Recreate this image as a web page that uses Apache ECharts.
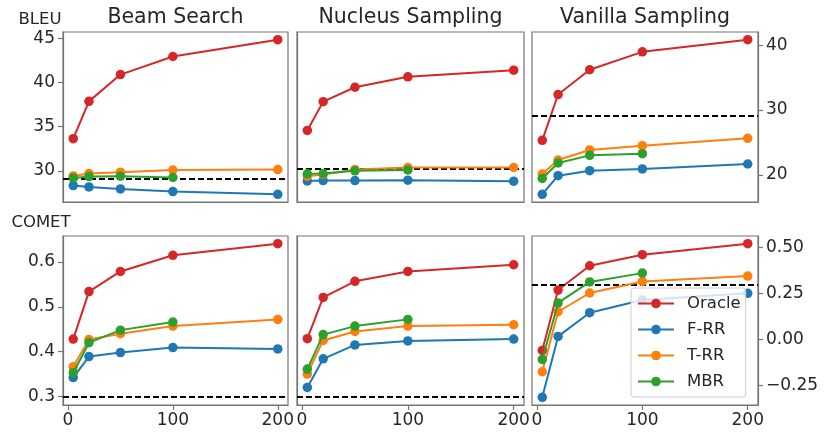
<!DOCTYPE html>
<html><head><meta charset="utf-8">
<script src="https://cdn.jsdelivr.net/npm/echarts@6/dist/echarts.min.js"></script>
<style>html,body{margin:0;padding:0;background:#fff}#c{width:830px;height:440px}</style>
</head><body><div id="c"></div>
<script>
// ---------- data ----------
const methods = ['Oracle', 'F-RR', 'T-RR', 'MBR'];
const budgets = [5, 20, 50, 100, 200];
const mbrBudgets = [5, 20, 50, 100];
const xTicks = [0, 100, 200];
const panelTitles = ['Beam Search', 'Nucleus Sampling', 'Vanilla Sampling'];
const metricLabels = ['BLEU', 'COMET'];

const bleuTicksLeft = [30, 35, 40, 45];
const bleuTicksRight = [20, 30, 40];
const cometTicksLeft = [0.3, 0.4, 0.5, 0.6];
const cometTicksRight = [-0.25, 0, 0.25, 0.5];

// BLEU - Beam Search
const bleuBeamOracle = [33.64, 37.87, 40.9, 42.95, 44.85];
const bleuBeamFRR    = [28.33, 28.18, 27.95, 27.65, 27.35];
const bleuBeamTRR    = [29.43, 29.7, 29.85, 30.1, 30.15];
const bleuBeamMBR    = [29.2, 29.35, 29.4, 29.25];
const bleuBeamBase   = 29.09;
// BLEU - Nucleus Sampling
const bleuNucOracle = [34.58, 37.84, 39.47, 40.65, 41.4];
const bleuNucFRR    = [28.86, 28.9, 28.9, 28.94, 28.83];
const bleuNucTRR    = [29.4, 29.6, 30.15, 30.38, 30.38];
const bleuNucMBR    = [29.66, 29.7, 30.0, 30.1];
const bleuNucBase   = 30.27;
// BLEU - Vanilla Sampling
const bleuVanOracle = [25.32, 32.38, 36.2, 38.96, 40.83];
const bleuVanFRR    = [17.0, 19.86, 20.63, 20.9, 21.67];
const bleuVanTRR    = [20.12, 22.28, 23.83, 24.5, 25.63];
const bleuVanMBR    = [19.44, 21.82, 23.0, 23.26];
const bleuVanBase   = 29.13;
// COMET - Beam Search
const cometBeamOracle = [0.428, 0.534, 0.579, 0.615, 0.641];
const cometBeamFRR    = [0.342, 0.389, 0.398, 0.409, 0.406];
const cometBeamTRR    = [0.366, 0.427, 0.44, 0.457, 0.472];
const cometBeamMBR    = [0.353, 0.42, 0.448, 0.466];
const cometBeamBase   = 0.302;
// COMET - Nucleus Sampling
const cometNucOracle = [0.429, 0.521, 0.557, 0.579, 0.594];
const cometNucFRR    = [0.32, 0.384, 0.415, 0.424, 0.428];
const cometNucTRR    = [0.35, 0.425, 0.445, 0.457, 0.46];
const cometNucMBR    = [0.361, 0.438, 0.457, 0.472];
const cometNucBase   = 0.298;
// COMET - Vanilla Sampling
const cometVanOracle = [-0.058, 0.27, 0.402, 0.462, 0.522];
const cometVanFRR    = [-0.313, 0.018, 0.147, 0.216, 0.252];
const cometVanTRR    = [-0.174, 0.152, 0.254, 0.317, 0.346];
const cometVanMBR    = [-0.107, 0.2, 0.314, 0.362];
const cometVanBase   = 0.303;

// ---------- build ----------
const colors = ['#d62728', '#1f77b4', '#ff7f0e', '#2ca02c'];
const FONT = 'DejaVu Sans';
const TXT = '#262626';
const FRAME = '#757575';

const panels = [
  [bleuBeamOracle, bleuBeamFRR, bleuBeamTRR, bleuBeamMBR, bleuBeamBase],
  [bleuNucOracle, bleuNucFRR, bleuNucTRR, bleuNucMBR, bleuNucBase],
  [bleuVanOracle, bleuVanFRR, bleuVanTRR, bleuVanMBR, bleuVanBase],
  [cometBeamOracle, cometBeamFRR, cometBeamTRR, cometBeamMBR, cometBeamBase],
  [cometNucOracle, cometNucFRR, cometNucTRR, cometNucMBR, cometNucBase],
  [cometVanOracle, cometVanFRR, cometVanTRR, cometVanMBR, cometVanBase]
];

function limits(list) {
  let vals = [];
  list.forEach(p => { p.forEach(a => { vals = vals.concat(a); }); });
  const lo = Math.min(...vals), hi = Math.max(...vals);
  const m = (hi - lo) * 0.05;
  return [lo - m, hi + m];
}
const xlo = Math.min(...budgets), xhi = Math.max(...budgets);
const xLim = [xlo - (xhi - xlo) * 0.05, xhi + (xhi - xlo) * 0.05];
const yLims = [
  limits([panels[0], panels[1]]), limits([panels[0], panels[1]]), limits([panels[2]]),
  limits([panels[3], panels[4]]), limits([panels[3], panels[4]]), limits([panels[5]])
];

const cols = [{left: 63, width: 225}, {left: 297, width: 227}, {left: 532, width: 226}];
const rows = [{top: 32, height: 170}, {top: 236, height: 169}];

const grids = [], xAxes = [], yAxes = [], series = [];
for (let p = 0; p < 6; p++) {
  const r = Math.floor(p / 3), c = p % 3;
  grids.push({left: cols[c].left, width: cols[c].width, top: rows[r].top, height: rows[r].height,
    show: true, borderColor: FRAME, borderWidth: 1.2, backgroundColor: 'transparent',
    containLabel: false, outerBoundsMode: 'none'});
  xAxes.push({type: 'value', gridIndex: p, min: xLim[0], max: xLim[1],
    axisLine: {show: true, onZero: false, lineStyle: {color: FRAME, width: 1.2}},
    splitLine: {show: false},
    axisTick: {show: r === 1, customValues: xTicks, length: 5, lineStyle: {color: FRAME, width: 1.2}},
    axisLabel: {show: r === 1, customValues: xTicks, margin: 7, fontFamily: FONT, fontSize: 17, color: TXT}});
  let ticks = r === 0 ? (c === 2 ? bleuTicksRight : bleuTicksLeft) : (c === 2 ? cometTicksRight : cometTicksLeft);
  let fmt;
  if (r === 0) fmt = v => String(Math.round(v));
  else if (c === 2) fmt = v => (v < -1e-9 ? '\u2212' : '') + Math.abs(v).toFixed(2);
  else fmt = v => v.toFixed(1);
  yAxes.push({type: 'value', gridIndex: p, min: yLims[p][0], max: yLims[p][1],
    position: c === 2 ? 'right' : 'left',
    axisLine: {show: true, onZero: false, lineStyle: {color: FRAME, width: 1.2}},
    splitLine: {show: false},
    axisTick: {show: c !== 1, customValues: ticks, length: 5, lineStyle: {color: FRAME, width: 1.2}},
    axisLabel: {show: c !== 1, customValues: ticks, formatter: fmt, margin: 8, fontFamily: FONT, fontSize: 17, color: TXT}});
  for (let m = 0; m < 4; m++) {
    const xs = m === 3 ? mbrBudgets : budgets;
    series.push({type: 'line', name: methods[m], xAxisIndex: p, yAxisIndex: p,
      data: panels[p][m].map((v, i) => [xs[i], v]),
      symbol: 'circle', symbolSize: 9.5, showSymbol: true,
      lineStyle: {width: 2, color: colors[m]}, itemStyle: {color: colors[m]},
      z: 3 + m, silent: true, animation: false});
  }
  series.push({type: 'line', name: 'baseline', xAxisIndex: p, yAxisIndex: p, data: [],
    silent: true, z: 8,
    markLine: {silent: true, symbol: ['none', 'none'], animation: false,
      label: {show: false},
      lineStyle: {color: '#000', type: [6, 3], width: 1.8},
      data: [{yAxis: panels[p][4]}]}});
}

const graphics = [];
for (let c = 0; c < 3; c++) {
  graphics.push({type: 'text', x: cols[c].left + cols[c].width / 2, y: 18,
    style: {text: panelTitles[c], fontFamily: FONT, fontSize: 20.5, fill: TXT,
      textAlign: 'center', textVerticalAlign: 'middle'}});
}
graphics.push({type: 'text', x: 40, y: 20, style: {text: metricLabels[0], fontFamily: FONT, fontSize: 16.5, fill: TXT, textAlign: 'center', textVerticalAlign: 'middle'}});
graphics.push({type: 'text', x: 41, y: 223, style: {text: metricLabels[1], fontFamily: FONT, fontSize: 16.5, fill: TXT, textAlign: 'center', textVerticalAlign: 'middle'}});

const chart = echarts.init(document.getElementById('c'), null, {renderer: 'canvas'});
chart.setOption({
  animation: false,
  backgroundColor: '#ffffff',
  textStyle: {fontFamily: FONT},
  grid: grids, xAxis: xAxes, yAxis: yAxes, series: series,
  graphic: graphics,
  legend: {data: methods, orient: 'vertical', left: 631, top: 288,
    padding: [7, 5, 7, 6], itemWidth: 36, itemHeight: 12, itemGap: 9,
    backgroundColor: 'rgba(255,255,255,0.8)', borderColor: '#cccccc', borderWidth: 1, borderRadius: 3,
    textStyle: {fontFamily: FONT, fontSize: 16.5, color: TXT, padding: [0, 0, 0, 8]},
    selectedMode: false, z: 20}
});
</script></body></html>
